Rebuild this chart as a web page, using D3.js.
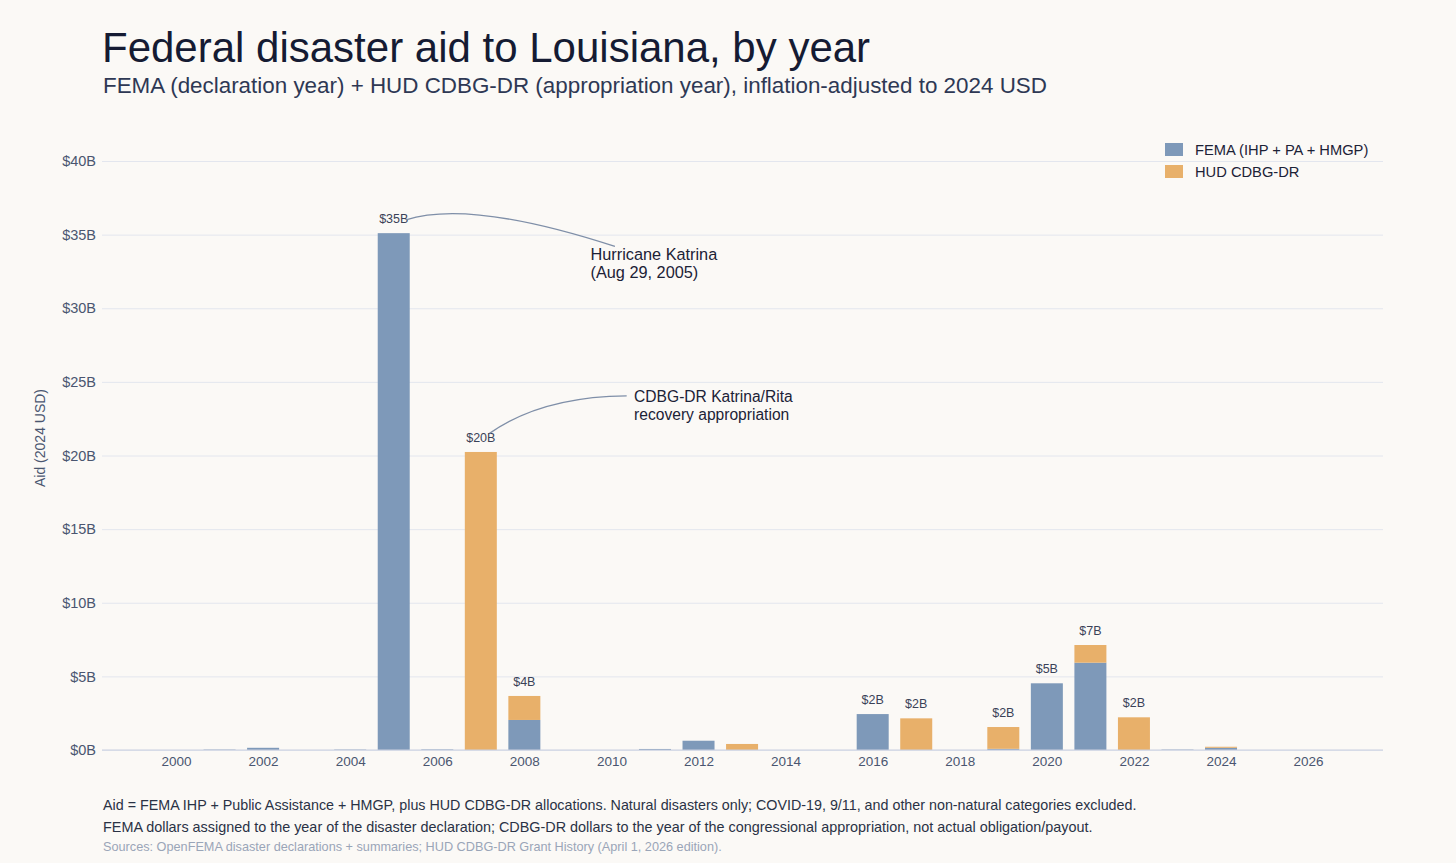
<!DOCTYPE html>
<html>
<head>
<meta charset="utf-8">
<script src="https://cdn.jsdelivr.net/npm/d3@7"></script>
<style>
  html, body { margin: 0; padding: 0; background: #fbf9f6; }
  svg { display: block; font-family: "Liberation Sans", Arial, sans-serif; }
</style>
</head>
<body>
<div id="chart-area"></div>
<script>
// values in billions of 2024 USD
var years = [2000, 2001, 2002, 2003, 2004, 2005, 2006, 2007, 2008, 2009, 2010, 2011, 2012, 2013,
    2014, 2015, 2016, 2017, 2018, 2019, 2020, 2021, 2022, 2023, 2024, 2025, 2026];
var femaB = [0, 0.03, 0.15, 0, 0.03, 35.1, 0.04, 0, 2.04, 0, 0, 0.07, 0.63, 0,
    0, 0, 2.44, 0, 0, 0.08, 4.53, 5.93, 0, 0.03, 0.15, 0, 0];
var hudB = [0, 0, 0, 0, 0, 0, 0, 20.24, 1.63, 0, 0, 0, 0, 0.41,
    0, 0, 0, 2.15, 0, 1.48, 0, 1.2, 2.22, 0, 0.07, 0, 0];
var xTicks = [2000, 2002, 2004, 2006, 2008, 2010, 2012, 2014, 2016, 2018, 2020, 2022, 2024, 2026];
var yTicks = [0, 5, 10, 15, 20, 25, 30, 35, 40];
var seriesNames = ["FEMA (IHP + PA + HMGP)", "HUD CDBG-DR"];

var W = 1456, H = 863;
var margin = { left: 102, right: 73, top: 161, bottom: 113 };
var width = W - margin.left - margin.right;
var height = H - margin.top - margin.bottom;

var colors = { fema: "#7e99b9", hud: "#e8b06a" };

var svgRoot = d3.select("#chart-area")
    .append("svg")
    .attr("width", W)
    .attr("height", H);

svgRoot.append("rect").attr("width", W).attr("height", H).attr("fill", "#fbf9f6");

var svg = svgRoot.append("g")
    .attr("transform", "translate(" + margin.left + ", " + margin.top + ")");

var x = d3.scaleLinear().domain([1998.3, 2027.72]).range([0, width]);
var y = d3.scaleLinear().domain([0, 40]).range([height, 0]);
var barW = x(2000.735) - x(2000);

var data = years.map((yr, i) => ({ year: yr, fema: femaB[i], hud: hudB[i] }));
var stack = d3.stack().keys(["fema", "hud"])(data);

// gridlines
svg.append("g")
    .attr("class", "grid")
    .call(d3.axisLeft(y).tickValues(yTicks).tickSize(-width).tickFormat(""))
    .call(g => g.select(".domain").remove())
    .call(g => g.selectAll("line").attr("stroke", "#e3e6ee").attr("stroke-width", 1));

// y axis labels
svg.append("g")
    .attr("class", "y axis")
    .call(d3.axisLeft(y).tickValues(yTicks).tickSize(0).tickPadding(6).tickFormat(d => "$" + d + "B"))
    .call(g => g.select(".domain").remove())
    .call(g => g.selectAll("text").attr("fill", "#4a5670").style("font-size", "14.5px"));

// bars
svg.selectAll("g.layer")
    .data(stack)
    .enter().append("g")
    .attr("class", "layer")
    .attr("fill", d => colors[d.key])
    .selectAll("rect")
    .data(d => d)
    .enter().append("rect")
    .attr("x", d => x(d.data.year) - barW / 2)
    .attr("y", d => y(d[1]))
    .attr("width", barW)
    .attr("height", d => Math.max(0, y(d[0]) - y(d[1])));

// zero line
svg.append("line")
    .attr("x1", 0).attr("x2", width)
    .attr("y1", y(0)).attr("y2", y(0))
    .attr("stroke", "#c9d0df").attr("stroke-width", 1.2);

// x axis
svg.append("g")
    .attr("class", "x axis")
    .attr("transform", "translate(0, " + height + ")")
    .call(d3.axisBottom(x).tickValues(xTicks).tickSize(0).tickPadding(6).tickFormat(d3.format("d")))
    .call(g => g.select(".domain").remove())
    .call(g => g.selectAll("text").attr("fill", "#4a5670").style("font-size", "13.5px"));

// total labels
svg.selectAll("text.total")
    .data(data.filter(d => d.fema + d.hud >= 1))
    .enter().append("text")
    .attr("class", "total")
    .attr("x", d => x(d.year))
    .attr("y", d => y(d.fema + d.hud) - 10)
    .attr("text-anchor", "middle")
    .attr("fill", "#3a4258")
    .style("font-size", "12.5px")
    .text(d => "$" + Math.round(d.fema + d.hud) + "B");

// annotations
function annotate(p0, c, p1, lines, tx, ty, size) {
    svg.append("path")
        .attr("d", "M" + x(p0[0]) + "," + y(p0[1]) +
            " Q" + x(c[0]) + "," + y(c[1]) + " " + x(p1[0]) + "," + y(p1[1]))
        .attr("fill", "none")
        .attr("stroke", "#7f8fa8")
        .attr("stroke-width", 1.4);
    var t = svg.append("text")
        .attr("x", x(tx)).attr("y", y(ty))
        .attr("fill", "#1c2236")
        .style("font-size", size);
    lines.forEach((l, i) => {
        t.append("tspan").attr("x", x(tx)).attr("dy", i == 0 ? 0 : 18).text(l);
    });
}
annotate([2005.28, 36.0], [2006.75, 37.4], [2010.08, 34.2],
    ["Hurricane Katrina", "(Aug 29, 2005)"], 2009.52, 33.3, "16.3px");
annotate([2007.2, 21.5], [2008.4, 24.0], [2010.35, 24.05],
    ["CDBG-DR Katrina/Rita", "recovery appropriation"], 2010.52, 23.6, "15.6px");

// legend
var legend = svgRoot.append("g").attr("transform", "translate(1165, 143)");
seriesNames.forEach((name, i) => {
    legend.append("rect")
        .attr("x", 0).attr("y", i * 22)
        .attr("width", 18).attr("height", 13)
        .attr("fill", i == 0 ? colors.fema : colors.hud);
    legend.append("text")
        .attr("x", 30).attr("y", i * 22 + 11.5)
        .attr("fill", "#1c2236")
        .style("font-size", "14.7px")
        .text(name);
});

// y axis title
svgRoot.append("text")
    .attr("transform", "translate(45, 438) rotate(-90)")
    .attr("text-anchor", "middle")
    .attr("fill", "#4a5670")
    .style("font-size", "14px")
    .text("Aid (2024 USD)");

// titles
svgRoot.append("text")
    .attr("x", 102).attr("y", 62)
    .attr("fill", "#151b33")
    .style("font-size", "42px")
    .text("Federal disaster aid to Louisiana, by year");

svgRoot.append("text")
    .attr("x", 103).attr("y", 93)
    .attr("fill", "#2e3854")
    .style("font-size", "22.4px")
    .text("FEMA (declaration year) + HUD CDBG-DR (appropriation year), inflation-adjusted to 2024 USD");

// footer
var foot = [
    ["Aid = FEMA IHP + Public Assistance + HMGP, plus HUD CDBG-DR allocations. Natural disasters only; COVID-19, 9/11, and other non-natural categories excluded.", 810, "#2a3245", "14.3px"],
    ["FEMA dollars assigned to the year of the disaster declaration; CDBG-DR dollars to the year of the congressional appropriation, not actual obligation/payout.", 832, "#2a3245", "14.4px"],
    ["Sources: OpenFEMA disaster declarations + summaries; HUD CDBG-DR Grant History (April 1, 2026 edition).", 851, "#9aa5b8", "12.7px"]
];
foot.forEach(f => {
    svgRoot.append("text")
        .attr("x", 103).attr("y", f[1])
        .attr("fill", f[2])
        .style("font-size", f[3])
        .text(f[0]);
});
</script>
</body>
</html>
